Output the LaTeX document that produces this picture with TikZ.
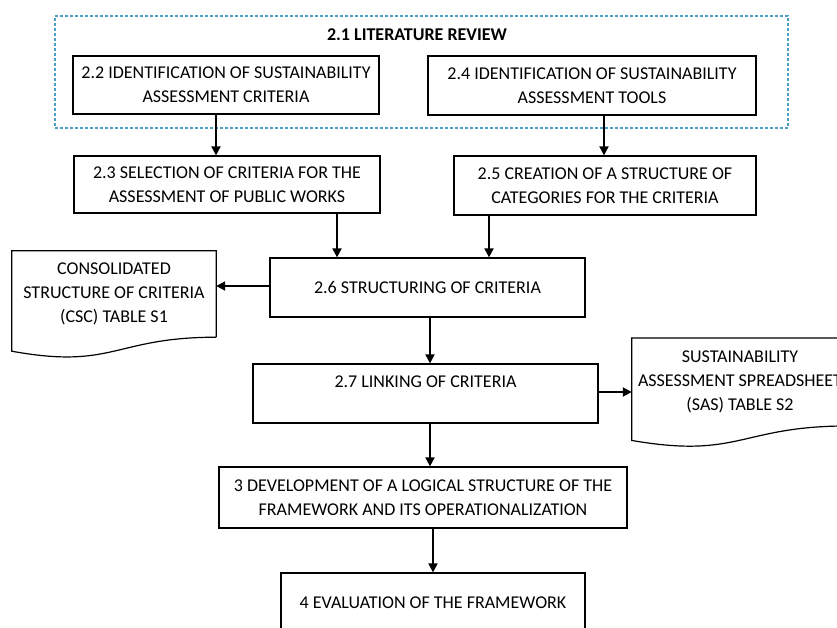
\documentclass[tikz,border=0pt]{standalone}
\usepackage{fontspec}
\setmainfont{Carlito}
\usepackage{xcolor}
\usepackage{tikz}
\usetikzlibrary{arrows.meta, positioning, calc}

\definecolor{litblue}{RGB}{75,160,200}

\begin{document}
\begin{tikzpicture}[
    x=1pt, y=-1pt,
    box/.style={rectangle, draw=black, line width=1.2pt, fill=white, align=center, inner sep=0pt, font=\fontsize{18}{24}\selectfont},
    docnode/.style={rectangle, align=center, inner sep=0pt, font=\fontsize{18}{24}\selectfont},
    arrow/.style={-{Triangle[length=9pt, width=9pt]}, line width=1.8pt},
  ]
  \useasboundingbox (0,0) rectangle (837,627);

  % literature review frame
  \node[draw=litblue, dashed, dash pattern=on 3pt off 2pt, line width=1.2pt, minimum width=733pt, minimum height=112pt] (lit) at (421.5,72) {};
  \node[font=\fontsize{18}{24}\selectfont\bfseries] (littitle) at (417,35) {2.1 LITERATURE REVIEW};

  \node[box, minimum width=306pt, minimum height=58pt] (s22) at (226,85) {2.2 IDENTIFICATION OF SUSTAINABILITY\\ASSESSMENT CRITERIA};
  \node[box, minimum width=328pt, minimum height=59pt] (s24) at (592,85.5) {2.4 IDENTIFICATION OF SUSTAINABILITY\\ASSESSMENT TOOLS};
  \node[box, minimum width=306pt, minimum height=57pt] (s23) at (227,184.5) {2.3 SELECTION OF CRITERIA FOR THE\\ASSESSMENT OF PUBLIC WORKS};
  \node[box, minimum width=302pt, minimum height=59pt] (s25) at (605,185.5) {2.5 CREATION OF A STRUCTURE OF\\CATEGORIES FOR THE CRITERIA};
  \node[box, minimum width=315pt, minimum height=59pt] (s26) at (427.5,287.5) {2.6 STRUCTURING OF CRITERIA};
  \node[box, minimum width=345pt, minimum height=59pt] (s27) at (425.5,393.5) {2.7 LINKING OF CRITERIA\\\mbox{}};
  \node[box, minimum width=408pt, minimum height=61pt] (s3) at (423,497.5) {3 DEVELOPMENT OF A LOGICAL STRUCTURE OF THE\\FRAMEWORK AND ITS OPERATIONALIZATION};
  \node[box, minimum width=304pt, minimum height=59pt] (s4) at (433,602.5) {4 EVALUATION OF THE FRAMEWORK};

  % documents
  \node[docnode, minimum width=204pt, minimum height=86pt] (csc) at (114,294) {CONSOLIDATED\\STRUCTURE OF CRITERIA\\(CSC) TABLE S1};
  \node[docnode, minimum width=216pt, minimum height=87.5pt] (sas) at (740,382) {SUSTAINABILITY\\ASSESSMENT SPREADSHEET\\(SAS) TABLE S2};
  \draw[line width=1.2pt] (csc.south east) -- (csc.north east) -- (csc.north west) -- ($(csc.south west)+(0,14)$)
    .. controls ($(csc.south)+(0,32.6)$) and (csc.south) .. (csc.south east);
  \draw[line width=1.2pt] (sas.south east) -- (sas.north east) -- (sas.north west) -- ($(sas.south west)+(0,14.5)$)
    .. controls ($(sas.south)+(0,33.2)$) and (sas.south) .. (sas.south east);

  \draw[arrow] ([xshift=-10pt]s22.south) -- ([xshift=-10pt]s22.south |- s23.north);
  \draw[arrow] ([xshift=12pt]s24.south) -- ([xshift=12pt]s24.south |- s25.north);
  \draw[arrow] ([xshift=110pt]s23.south) -- ([xshift=110pt]s23.south |- s26.north);
  \draw[arrow] ([xshift=-116pt]s25.south) -- ([xshift=-116pt]s25.south |- s26.north);
  \draw[arrow] ([yshift=1.5pt]s26.west) -- ([yshift=1.5pt]s26.west -| csc.east);
  \draw[arrow] ([xshift=2.5pt]s26.south) -- ([xshift=2.5pt]s26.south |- s27.north);
  \draw[arrow] ([yshift=1.5pt]s27.east) -- ([yshift=1.5pt]s27.east -| sas.west);
  \draw[arrow] ([xshift=4.5pt]s27.south) -- ([xshift=4.5pt]s27.south |- s3.north);
  \draw[arrow] (s4.north |- s3.south) -- (s4.north);

\end{tikzpicture}
\end{document}
